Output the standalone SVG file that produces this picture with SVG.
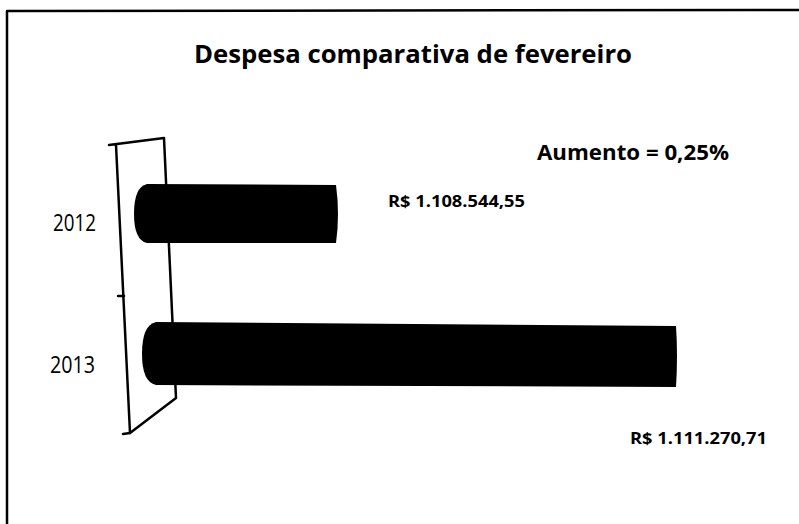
<svg xmlns="http://www.w3.org/2000/svg" width="799" height="524" viewBox="0 0 799 524">
<style>
text{font-family:"Open Sans","Liberation Sans",sans-serif;fill:#000}
.b{font-weight:bold}
.ln{fill:none;stroke:#000;stroke-width:2.5;stroke-linecap:round;stroke-linejoin:round}
.bar{fill:#000}
</style>
<rect width="799" height="524" fill="#fff"/>
<g id="frame">
<path class="ln" d="M7,524 L7,11 L799,10"/>
</g>
<g id="title"><text class="b" x="413" y="63" font-size="25" text-anchor="middle" textLength="438" lengthAdjust="spacingAndGlyphs">Despesa comparativa de fevereiro</text></g>
<g id="wall">
<path class="ln" d="M109,145 L164,138 L176,398 L130,433 L116,145"/>
<path class="ln" d="M123,434 L130,433 M118,296 L124,296"/>
</g>
<g id="cat-labels">
<text x="53" y="231" font-size="23" textLength="43" lengthAdjust="spacingAndGlyphs">2012</text>
<text x="50" y="373" font-size="23" textLength="45" lengthAdjust="spacingAndGlyphs">2013</text>
</g>
<g id="bar-2012">
<path class="bar" d="M147,184 L336,185 Q340,214 336,243 L147,243 Q134,240 134,214 Q134,187 147,184 Z"/>
</g>
<g id="bar-2013">
<path class="bar" d="M156,322 L676,326 Q678,356 676,387 L156,385 Q142,382 142,354 Q142,325 156,322 Z"/>
</g>
<g id="value-labels">
<text class="b" x="537" y="160" font-size="21" textLength="192" lengthAdjust="spacingAndGlyphs">Aumento = 0,25%</text>
<text class="b" x="388" y="207" font-size="15.5" textLength="137" lengthAdjust="spacingAndGlyphs">R$ 1.108.544,55</text>
<text class="b" x="630" y="444" font-size="15.5" textLength="137" lengthAdjust="spacingAndGlyphs">R$ 1.111.270,71</text>
</g>
</svg>
